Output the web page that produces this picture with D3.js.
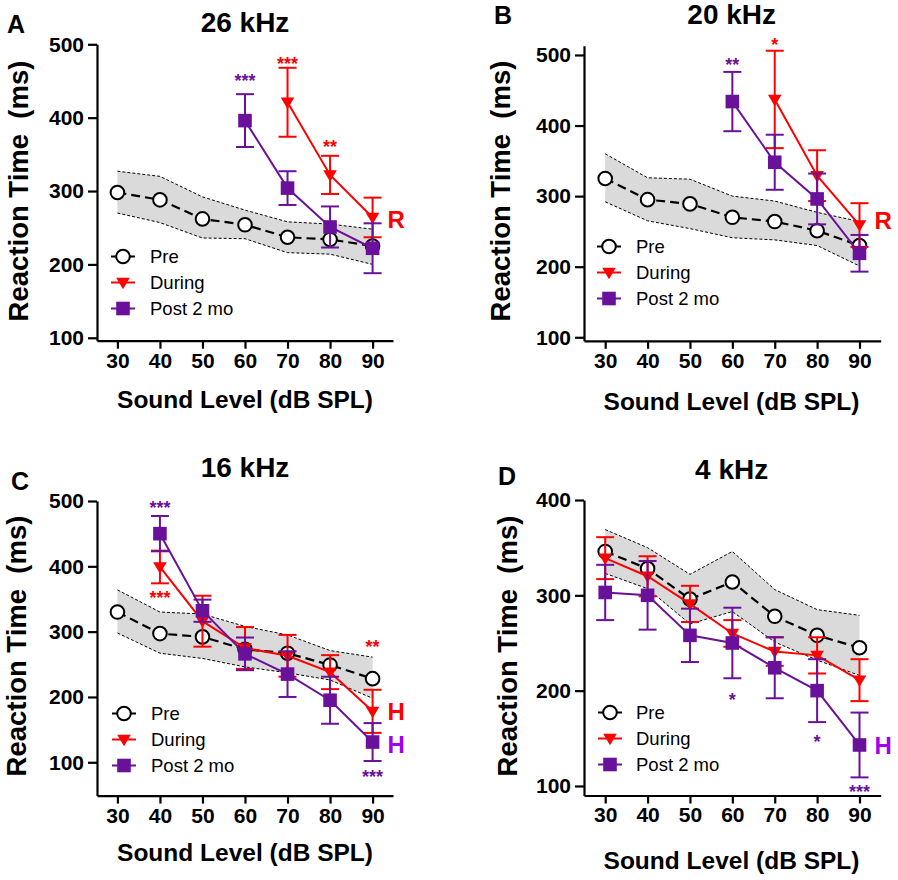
<!DOCTYPE html>
<html><head><meta charset="utf-8">
<script src="https://cdn.jsdelivr.net/npm/d3@7"></script>
<style>
body{margin:0;background:#fff}
svg{display:block}
text{font-family:"Liberation Sans",Arial,Helvetica,sans-serif}
</style>
</head><body>
<svg id="chart" width="898" height="880"></svg>
<script>
// ---------- DATA ----------
const levels = [30, 40, 50, 60, 70, 80, 90];
const xTickValues = [30, 40, 50, 60, 70, 80, 90];
const yTicks500 = [100, 200, 300, 400, 500];
const yTicks400 = [100, 200, 300, 400];
const panelLetters = ["A", "B", "C", "D"];
const panelTitles = ["26 kHz", "20 kHz", "16 kHz", "4 kHz"];
const legendLabels = ["Pre", "During", "Post 2 mo"];

// A: 26 kHz
const preA = [298, 288, 262, 254, 237, 234, 225];
const preHiA = [327, 320, 292, 274, 258, 255, 248];
const preLoA = [270, 257, 236, 235, 216, 214, 200];
const duringLvA = [70, 80, 90];
const duringA = [421, 322, 264];
const duringErrA = [47, 26, 27];
const postLvA = [60, 70, 80, 90];
const postA = [396, 304, 251, 222];
const postErrA = [36, 23, 28, 34];
const starsA = [["post", 60, 455, "***"], ["during", 70, 479, "***"], ["during", 80, 365, "**"]];
const tagsA = [["during", 249, "R"]];

// B: 20 kHz
const preB = [325, 295, 289, 270, 264, 251, 230];
const preHiB = [360, 326, 324, 300, 293, 277, 264];
const preLoB = [292, 265, 254, 241, 238, 230, 201];
const duringLvB = [70, 80, 90];
const duringB = [437, 329, 259];
const duringErrB = [69, 36, 31];
const postLvB = [60, 70, 80, 90];
const postB = [434, 348, 296, 219];
const postErrB = [42, 39, 36, 26];
const starsB = [["post", 60, 491, "**"], ["during", 70, 520, "*"]];
const tagsB = [["during", 254, "R"]];

// C: 16 kHz
const preC = [330, 297, 292, 273, 267, 249, 228];
const preHiC = [364, 330, 327, 308, 295, 271, 261];
const preLoC = [298, 267, 259, 246, 237, 226, 198];
const duringLvC = [40, 50, 60, 70, 80, 90];
const duringC = [399, 316, 275, 263, 238, 178];
const duringErrC = [25, 39, 32, 32, 26, 33];
const postLvC = [40, 50, 60, 70, 80, 90];
const postC = [450, 332, 266, 235, 195, 131];
const postErrC = [27, 17, 25, 35, 36, 29];
const starsC = [["post", 40, 496, "***"], ["during", 40, 358, "***"], ["during", 90, 283, "**"], ["post", 90, 84, "***"]];
const tagsC = [["during", 165, "H"], ["postTag", 114, "H"]];

// D: 4 kHz
const preD = [346, 328, 296, 314, 278, 258, 245];
const preHiD = [369, 350, 322, 346, 306, 285, 279];
const preLoD = [323, 307, 270, 283, 251, 232, 216];
const duringLvD = [30, 40, 50, 60, 70, 80, 90];
const duringD = [339, 320, 291, 260, 241, 237, 211];
const duringErrD = [22, 21, 19, 14, 15, 19, 22];
const postLvD = [30, 40, 50, 60, 70, 80, 90];
const postD = [303, 300, 258, 250, 224, 200, 143];
const postErrD = [29, 36, 28, 37, 32, 33, 34];
const starsD = [["post", 60, 194, "*"], ["post", 80, 150, "*"], ["post", 90, 98, "***"]];
const tagsD = [["postTag", 134, "H"]];

// ---------- STYLE / LAYOUT ----------
const colors = {pre: "#000", during: "#ff0000", post: "#6a119c", postTag: "#a400f0", band: "#dadada"};

const layouts = [
  {xDom: [25.2, 94.8], xRng: [97, 393], yDom: [96, 500], yRng: [340.7, 44.3], yTicks: yTicks500,
   title: [245, 32], letter: [7, 33], yLab: [28, 191], xLab: [245, 408], leg: [123, 150, 263]},
  {xDom: [25, 95], xRng: [584, 880.7], yDom: [95, 513], yRng: [340.8, 45.8], yTicks: yTicks500,
   title: [731.7, 24], letter: [494, 24], yLab: [510, 191], xLab: [731.5, 410], leg: [609, 636, 253]},
  {xDom: [25.2, 94.8], xRng: [97, 393], yDom: [49, 500], yRng: [795.6, 501], yTicks: yTicks500,
   title: [245, 477], letter: [11, 490], yLab: [26, 646], xLab: [245, 861], leg: [124, 151, 720]},
  {xDom: [25, 95], xRng: [584, 880.7], yDom: [90, 400], yRng: [795.5, 500], yTicks: yTicks400,
   title: [731.7, 479], letter: [498, 485], yLab: [517, 646], xLab: [731.5, 869], leg: [610, 636, 719]}
];

const panelsData = [
  {pre: preA, hi: preHiA, lo: preLoA, dLv: duringLvA, d: duringA, dE: duringErrA, pLv: postLvA, p: postA, pE: postErrA, stars: starsA, tags: tagsA},
  {pre: preB, hi: preHiB, lo: preLoB, dLv: duringLvB, d: duringB, dE: duringErrB, pLv: postLvB, p: postB, pE: postErrB, stars: starsB, tags: tagsB},
  {pre: preC, hi: preHiC, lo: preLoC, dLv: duringLvC, d: duringC, dE: duringErrC, pLv: postLvC, p: postC, pE: postErrC, stars: starsC, tags: tagsC},
  {pre: preD, hi: preHiD, lo: preLoD, dLv: duringLvD, d: duringD, dE: duringErrD, pLv: postLvD, p: postD, pE: postErrD, stars: starsD, tags: tagsD}
];

const svg = d3.select("#chart");
const triPath = "M-6.8,-4.7L6.8,-4.7L0,6.8Z";
const capHalf = 9;

function drawMarker(g, type, cx, cy) {
  if (type === "pre") {
    g.append("circle").attr("cx", cx).attr("cy", cy).attr("r", 6.8)
      .attr("fill", "#fff").attr("stroke", "#000").attr("stroke-width", 2);
  } else if (type === "during") {
    g.append("path").attr("d", triPath).attr("transform", `translate(${cx},${cy})`)
      .attr("fill", colors.during);
  } else {
    g.append("rect").attr("x", cx - 6.8).attr("y", cy - 6.8).attr("width", 13.6).attr("height", 13.6)
      .attr("fill", colors.post);
  }
}

function drawSeries(g, x, y, lv, vals, errs, type) {
  const col = colors[type];
  const pts = lv.map((l, i) => [x(l), y(vals[i])]);
  g.append("path").attr("d", d3.line()(pts)).attr("fill", "none")
    .attr("stroke", col).attr("stroke-width", 2);
  lv.forEach((l, i) => {
    const cx = x(l), t = y(vals[i] + errs[i]), b = y(vals[i] - errs[i]);
    g.append("line").attr("x1", cx).attr("x2", cx).attr("y1", t).attr("y2", b)
      .attr("stroke", col).attr("stroke-width", 2);
    [t, b].forEach(yy => g.append("line").attr("x1", cx - capHalf).attr("x2", cx + capHalf)
      .attr("y1", yy).attr("y2", yy).attr("stroke", col).attr("stroke-width", 2));
  });
  lv.forEach((l, i) => drawMarker(g, type, x(l), y(vals[i])));
}

layouts.forEach((L, pi) => {
  const D = panelsData[pi];
  const g = svg.append("g");
  const x = d3.scaleLinear().domain(L.xDom).range(L.xRng);
  const y = d3.scaleLinear().domain(L.yDom).range(L.yRng);

  // band
  const idx = levels.map((_, i) => i);
  g.append("path").attr("d", d3.area().x(i => x(levels[i])).y0(i => y(D.lo[i])).y1(i => y(D.hi[i]))(idx))
    .attr("fill", colors.band);
  [D.hi, D.lo].forEach(arr => g.append("path")
    .attr("d", d3.line().x(i => x(levels[i])).y(i => y(arr[i]))(idx))
    .attr("fill", "none").attr("stroke", "#000").attr("stroke-width", 1).attr("stroke-dasharray", "3,2"));

  // pre
  g.append("path").attr("d", d3.line().x(i => x(levels[i])).y(i => y(D.pre[i]))(idx))
    .attr("fill", "none").attr("stroke", "#000").attr("stroke-width", 2.2).attr("stroke-dasharray", "9,5");
  levels.forEach((l, i) => drawMarker(g, "pre", x(l), y(D.pre[i])));

  drawSeries(g, x, y, D.dLv, D.d, D.dE, "during");
  drawSeries(g, x, y, D.pLv, D.p, D.pE, "post");

  // axes
  const xa = g.append("g").attr("transform", `translate(0,${L.yRng[0]})`)
    .call(d3.axisBottom(x).tickValues(xTickValues).tickSize(8).tickSizeOuter(0).tickPadding(4));
  const ya = g.append("g").attr("transform", `translate(${L.xRng[0]},0)`)
    .call(d3.axisLeft(y).tickValues(L.yTicks).tickSize(9).tickSizeOuter(0).tickPadding(4));
  [xa, ya].forEach(a => {
    a.selectAll("path,line").attr("stroke", "#000").attr("stroke-width", 2.2);
    a.selectAll("text").attr("font-size", 21).attr("font-weight", "bold").attr("fill", "#000")
      .style("font-family", '"Liberation Sans",Arial,sans-serif');
  });

  // stars
  D.stars.forEach(([ser, lv, val, txt]) => {
    g.append("text").attr("x", x(lv)).attr("y", y(val) + 10).attr("text-anchor", "middle")
      .attr("font-size", 18).attr("font-weight", "bold").attr("fill", colors[ser]).text(txt);
  });
  // tags
  D.tags.forEach(([ser, val, txt]) => {
    g.append("text").attr("x", x(90) + 15).attr("y", y(val)).attr("font-size", 24)
      .attr("font-weight", "bold").attr("fill", colors[ser]).text(txt);
  });

  // titles, labels
  g.append("text").attr("x", L.title[0]).attr("y", L.title[1]).attr("text-anchor", "middle")
    .attr("font-size", 28).attr("font-weight", "bold").text(panelTitles[pi]);
  g.append("text").attr("x", L.letter[0]).attr("y", L.letter[1])
    .attr("font-size", 25).attr("font-weight", "bold").text(panelLetters[pi]);
  g.append("text").attr("transform", `translate(${L.yLab[0]},${L.yLab[1]}) rotate(-90)`)
    .attr("text-anchor", "middle").attr("font-size", 27.5).attr("font-weight", "bold")
    .style("white-space", "pre").text("Reaction Time  (ms)");
  g.append("text").attr("x", L.xLab[0]).attr("y", L.xLab[1]).attr("text-anchor", "middle")
    .attr("font-size", 24.5).attr("font-weight", "bold").text("Sound Level (dB SPL)");

  // legend
  const [sx, tx, b0] = L.leg;
  ["pre", "during", "post"].forEach((ser, i) => {
    const by = b0 + i * 26, cy = by - 6.5;
    const ln = g.append("line").attr("x1", sx - 12).attr("x2", sx + 12).attr("y1", cy).attr("y2", cy)
      .attr("stroke", colors[ser]).attr("stroke-width", 2);
    if (ser === "pre") ln.attr("stroke-dasharray", "5,14");
    drawMarker(g, ser, sx, cy);
    g.append("text").attr("x", tx).attr("y", by).attr("font-size", 18.5).attr("fill", "#000")
      .text(legendLabels[i]);
  });
});
</script>
</body></html>
